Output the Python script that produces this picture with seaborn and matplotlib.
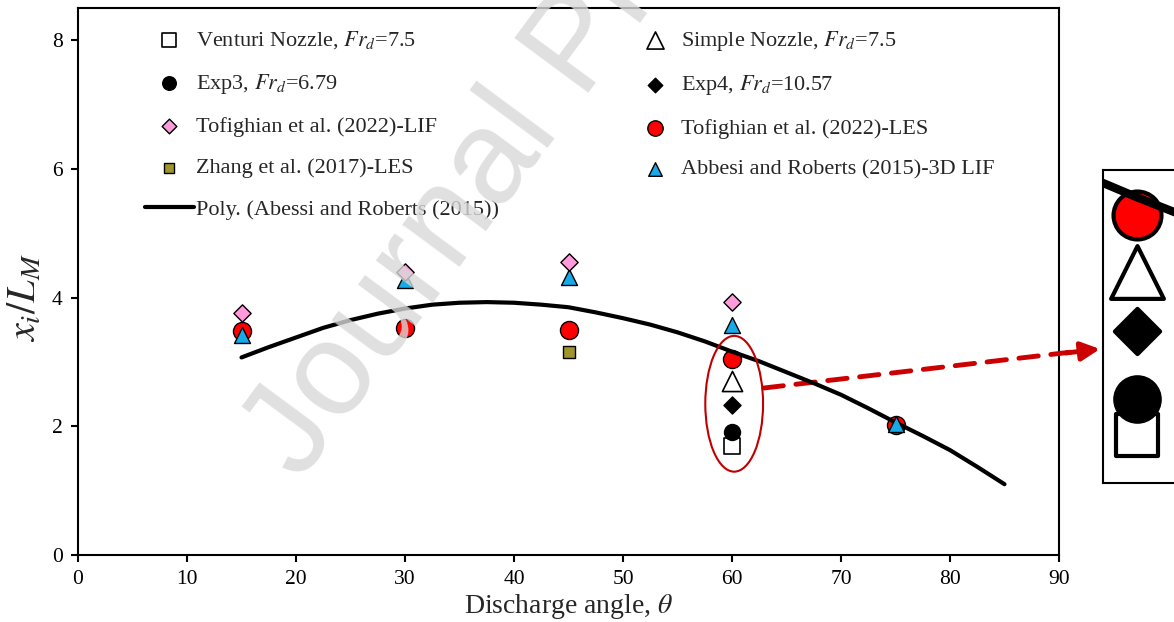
import matplotlib
matplotlib.use("Agg")
import matplotlib.pyplot as plt
import seaborn as sns
from matplotlib.patches import Ellipse

# ---------------- data ----------------
angle_venturi = [60]
xi_venturi = [1.69]
angle_simple = [60]
xi_simple = [2.70]
angle_exp3 = [60]
xi_exp3 = [1.91]
angle_exp4 = [60]
xi_exp4 = [2.33]
angle_lif = [15, 30, 45, 60]
xi_lif = [3.76, 4.39, 4.55, 3.93]
angle_les = [15, 30, 45, 60, 75]
xi_les = [3.48, 3.52, 3.49, 3.05, 2.02]
angle_zhang = [45]
xi_zhang = [3.15]
angle_abessi = [15, 30, 45, 60, 75]
xi_abessi = [3.42, 4.27, 4.32, 3.57, 2.03]
angle_poly = [15, 17.5, 20, 22.5, 25, 27.5, 30, 32.5, 35, 37.5, 40, 42.5, 45, 47.5,
              50, 52.5, 55, 57.5, 60, 62.5, 65, 67.5, 70, 72.5, 75, 77.5, 80, 82.5, 85]
xi_poly = [3.07, 3.23, 3.38, 3.53, 3.65, 3.75, 3.83, 3.89, 3.92, 3.93, 3.92, 3.89,
           3.85, 3.77, 3.68, 3.58, 3.46, 3.32, 3.16, 3.01, 2.84, 2.67, 2.49, 2.28,
           2.06, 1.85, 1.63, 1.37, 1.10]

x_ticks = [0, 10, 20, 30, 40, 50, 60, 70, 80, 90]
y_ticks = [0, 2, 4, 6, 8]

lab_venturi = "Venturi Nozzle, $Fr_d$=7.5"
lab_exp3 = "Exp3, $Fr_d$=6.79"
lab_lif = "Tofighian et al. (2022)-LIF"
lab_zhang = "Zhang et al. (2017)-LES"
lab_poly = "Poly. (Abessi and Roberts (2015))"
lab_simple = "Simple Nozzle, $Fr_d$=7.5"
lab_exp4 = "Exp4, $Fr_d$=10.57"
lab_les = "Tofighian et al. (2022)-LES"
lab_abessi = "Abbesi and Roberts (2015)-3D LIF"

# ---------------- style ----------------
sns.set_theme(style="ticks")
plt.rcParams["font.family"] = ["Liberation Serif", "DejaVu Serif"]
plt.rcParams["mathtext.fontset"] = "stix"
plt.rcParams["axes.linewidth"] = 1.5

W, H = 1174, 622
fig = plt.figure(figsize=(W / 100, H / 100), dpi=100)
ax = fig.add_axes([78 / W, 1 - 555 / H, (1059 - 78) / W, (555 - 8) / H])

pink = "#FF9BDB"
blue = "#17A9E8"
olive = "#A0952A"
red = "#FF0000"

# (x, y, marker, size_pt, face, edge, lw, z, label, inset_size_pt)
series = [
    (angle_les, xi_les, "o", 13.0, red, "black", 1.0, 3, lab_les, 34.5),
    (angle_venturi, xi_venturi, "s", 11.5, "white", "black", 1.2, 5, lab_venturi, 30),
    (angle_exp3, xi_exp3, "o", 11.5, "black", "black", 1.0, 6, lab_exp3, 32),
    (angle_zhang, xi_zhang, "s", 8.6, olive, "black", 1.0, 5, lab_zhang, 23),
    (angle_simple, xi_simple, "^", 14.5, "white", "black", 1.2, 5, lab_simple, 38),
    (angle_exp4, xi_exp4, "D", 8.7, "black", "black", 1.0, 5, lab_exp4, 23),
    (angle_abessi, xi_abessi, "^", 11.5, blue, "black", 1.0, 6, lab_abessi, 31),
    (angle_lif, xi_lif, "D", 8.8, pink, "black", 1.0, 7, lab_lif, 22),
]

for xs, ys, m, ms, fc, ec, lw, z, lab, _ in series:
    sns.scatterplot(x=xs, y=ys, marker=m, s=ms ** 2, color=fc, edgecolor=ec,
                    linewidth=lw, zorder=z, label=lab, ax=ax, legend=False)

sns.lineplot(x=angle_poly, y=xi_poly, color="black", linewidth=3.0, zorder=4,
             label=lab_poly, ax=ax, legend=False)

ax.set_xlim(0, 90)
ax.set_ylim(0, 8.5)
ax.set_xticks(x_ticks)
ax.set_yticks(y_ticks)
ax.tick_params(axis="both", direction="out", length=5, width=1.5, labelsize=15.5,
               colors="black", pad=6)
for s in ax.spines.values():
    s.set_visible(True)
    s.set_color("black")
    s.set_linewidth(1.5)
ax.set_xlabel(r"Discharge angle, $\theta$", fontsize=20, labelpad=2)
ax.set_ylabel(r"$x_i/L_M$", fontsize=29)
ax.yaxis.set_label_coords(-0.034, 0.47)

# legend
handles, labels = ax.get_legend_handles_labels()
hmap = dict(zip(labels, handles))
order = [lab_venturi, lab_exp3, lab_lif, lab_zhang, lab_poly,
         lab_simple, lab_exp4, lab_les, lab_abessi]
ax.legend([hmap[k] for k in order], order, ncol=2, loc="upper left",
          bbox_to_anchor=(0.068, 0.962), frameon=False, fontsize=16,
          handlelength=2.2, handletextpad=0.11, columnspacing=5.9,
          labelspacing=0.93, borderpad=0, borderaxespad=0,
          scatterpoints=1, markerscale=0.85)

# ellipse highlight
ax.add_patch(Ellipse((60.2, 2.35), 5.3, 2.11, fill=False, edgecolor="#C00000",
                     linewidth=1.5, zorder=8))

# dashed arrow to inset
ax.annotate("", xy=(1072 / W, 1 - 352 / H), xytext=(764 / W, 1 - 388 / H),
            xycoords="figure fraction", textcoords="figure fraction",
            arrowprops=dict(arrowstyle="-", color="#CC0000", lw=3.5,
                            linestyle=(0, (4, 2.6)), shrinkA=0, shrinkB=0),
            annotation_clip=False)
ax.annotate("", xy=(1100 / W, 1 - 349 / H), xytext=(1066 / W, 1 - 353 / H),
            xycoords="figure fraction", textcoords="figure fraction",
            arrowprops=dict(arrowstyle="-|>", color="#CC0000", lw=3.5,
                            mutation_scale=28, shrinkA=0, shrinkB=0),
            annotation_clip=False)

# inset zoom box
axin = fig.add_axes([1103 / W, 1 - 483 / H, (1220 - 1103) / W, (483 - 170) / H])
for xs, ys, m, ms, fc, ec, lw, z, lab, ims in series:
    sns.scatterplot(x=xs, y=ys, marker=m, s=ims ** 2, color=fc, edgecolor=ec,
                    linewidth=3.0, zorder=z, ax=axin, legend=False)
sns.lineplot(x=angle_poly, y=xi_poly, color="black", linewidth=6.0, zorder=4,
             ax=axin, legend=False)
axin.set_xlim(58.6, 63.38)
axin.set_ylim(1.39, 3.33)
axin.set_xticks([])
axin.set_yticks([])
axin.set_xlabel("")
axin.set_ylabel("")
for s in axin.spines.values():
    s.set_color("black")
    s.set_linewidth(1.5)

# watermark
fig.text(300 / W, 1 - 482 / H, "Journal Pre-proof", rotation=53.5,
         rotation_mode="anchor", ha="left", va="baseline", fontsize=96,
         family=["Liberation Sans", "DejaVu Sans"], color="#D8D8D8",
         alpha=0.8, zorder=20)

fig.savefig("out.png", dpi=100)
